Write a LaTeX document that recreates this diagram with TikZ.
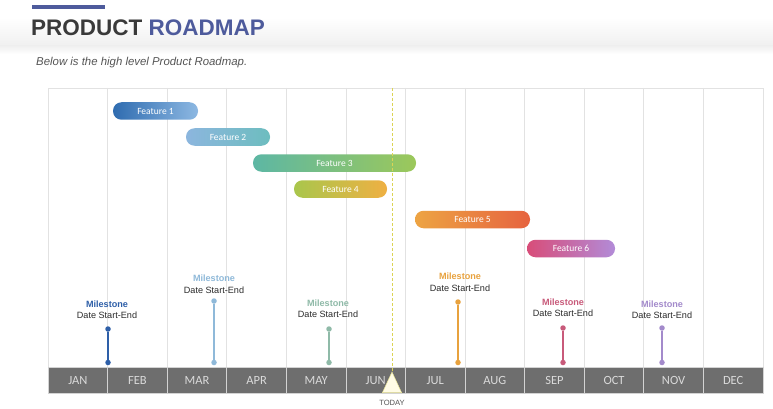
\documentclass[tikz,border=0pt]{standalone}
\usepackage{fontspec}
\setmainfont{Liberation Sans}
\newfontfamily\calfont{Carlito}
\usetikzlibrary{shapes.geometric}
\definecolor{titledark}{HTML}{3A3A3A}
\definecolor{titleblue}{HTML}{4E5B9C}
\definecolor{subgray}{HTML}{555555}
\definecolor{gridc}{HTML}{E2E2E2}
\definecolor{barg}{HTML}{6E6E6E}
\definecolor{monthtxt}{HTML}{DADADA}
\definecolor{darktxt}{HTML}{2A2A2A}
\definecolor{todayc}{HTML}{DCD454}
\definecolor{trifill}{HTML}{FFFCE6}
\definecolor{fa}{HTML}{2F6CB0}\definecolor{fb}{HTML}{8DB8E2}
\definecolor{fc}{HTML}{8CB6DE}\definecolor{fd}{HTML}{6DBDBF}
\definecolor{fe}{HTML}{5DB7A4}\definecolor{ff}{HTML}{9CC85A}
\definecolor{fg}{HTML}{A9C64C}\definecolor{fh}{HTML}{EFB043}
\definecolor{fi}{HTML}{EDA443}\definecolor{fj}{HTML}{E6633F}
\definecolor{fk}{HTML}{D84D79}\definecolor{fl}{HTML}{B28BD8}
\definecolor{ma}{HTML}{2E5FA8}
\definecolor{mb}{HTML}{8FB9D9}
\definecolor{mc}{HTML}{8FBAA8}
\definecolor{md}{HTML}{E8A23E}
\definecolor{me}{HTML}{C85A7A}
\definecolor{mf}{HTML}{A38ACB}
\tikzset{
  pill/.style={rounded corners=8.5pt, minimum height=17.5pt, inner sep=0pt, text=white, font=\calfont\fontsize{9.5}{10}\selectfont},
  month/.style={fill=barg, draw=white!70!barg, line width=0.8pt, minimum width=59.58pt, minimum height=26.5pt, inner sep=0pt, text=monthtxt, font=\calfont\fontsize{12.5}{13}\selectfont},
  msdot/.style={circle, inner sep=0pt, minimum size=5.5pt},
  msline/.style={line width=1.8pt},
  mslabel/.style={align=center, inner sep=0pt, text=darktxt, font=\fontsize{9.1}{11.5}\selectfont},
  gridline/.style={draw=gridc, line width=0.8pt}
}
\begin{document}
\begin{tikzpicture}[x=1pt,y=-1pt]
\useasboundingbox (0,0) rectangle (773,409);
\fill[white] (0,0) rectangle (773,409);
% header band
\shade[top color=white, bottom color=black!6] (0,18) rectangle (773,46);
\shade[top color=black!6, bottom color=white] (0,46) rectangle (773,54);
\fill[titleblue] (32,5) rectangle (105,9);
\node[anchor=base west, inner sep=0pt, font=\bfseries\fontsize{22.5}{24}\selectfont] (title) at (31,36) {\textcolor{titledark}{PRODUCT} \textcolor{titleblue}{ROADMAP}};
\node[anchor=base west, inner sep=0pt, text=subgray, font=\itshape\fontsize{11.4}{12}\selectfont] (sub) at (36,65.5) {Below is the high level Product Roadmap.};
% frame and grid
\draw[draw=gridc, line width=0.8pt] (48,88) rectangle (763,367);
\foreach \i in {1,...,11} {
  \draw[gridline] ({48+59.583*\i},88) -- ({48+59.583*\i},367);
}
% months
\foreach \m [count=\i] in {JAN,FEB,MAR,APR,MAY,JUN,JUL,AUG,SEP,OCT,NOV,DEC} {
  \node[month] (mon\i) at ({48+59.583*(\i-0.5)},380.5) {\m};
}
% features
\node[pill, left color=fa, right color=fb, minimum width=85pt] (f1) at (155.5,111) {Feature 1};
\node[pill, left color=fc, right color=fd, minimum width=84pt] (f2) at (228,137) {Feature 2};
\node[pill, left color=fe, right color=ff, minimum width=163pt] (f3) at (334.5,163) {Feature 3};
\node[pill, left color=fg, right color=fh, minimum width=93pt] (f4) at (340.5,189) {Feature 4};
\node[pill, left color=fi, right color=fj, minimum width=115pt] (f5) at (472.5,219.5) {Feature 5};
\node[pill, left color=fk, right color=fl, minimum width=88pt] (f6) at (571,248.5) {Feature 6};
% today
\coordinate (ttop) at (392,88);
\coordinate (tapex) at (392,372);
\draw[todayc, line width=1pt, dash pattern=on 3pt off 2pt] (ttop) -- (tapex);
\filldraw[fill=trifill, draw=todayc!60, line width=0.5pt] (tapex) -- (382.5,392.5) -- (401.5,392.5) -- cycle;
\node[text=subgray, inner sep=0pt, font=\fontsize{7.6}{8}\selectfont] (today) at (392,403) {TODAY};
% milestones
\foreach \n/\x/\ty/\c/\w in {1/108/329/ma/2.1pt, 2/214/301/mb/1.8pt, 3/329/329/mc/1.8pt, 4/458/302/md/1.8pt, 5/563/328/me/1.8pt, 6/662/328/mf/1.8pt} {
  \node[msdot, fill=\c] (mt\n) at (\x,\ty) {};
  \node[msdot, fill=\c] (mb\n) at (\x,362.5) {};
  \draw[msline, line width=\w, \c] (mt\n) -- (mb\n);
}
\node[mslabel] (ml1) at (107,309.5) {\textcolor{ma}{\bfseries Milestone}\\Date Start-End};
\node[mslabel] (ml2) at (214,284) {\textcolor{mb}{\bfseries Milestone}\\Date Start-End};
\node[mslabel] (ml3) at (328,308.5) {\textcolor{mc}{\bfseries Milestone}\\Date Start-End};
\node[mslabel] (ml4) at (460,282) {\textcolor{md}{\bfseries Milestone}\\Date Start-End};
\node[mslabel] (ml5) at (563,307.5) {\textcolor{me}{\bfseries Milestone}\\Date Start-End};
\node[mslabel] (ml6) at (662,309.5) {\textcolor{mf}{\bfseries Milestone}\\Date Start-End};
\end{tikzpicture}
\end{document}
